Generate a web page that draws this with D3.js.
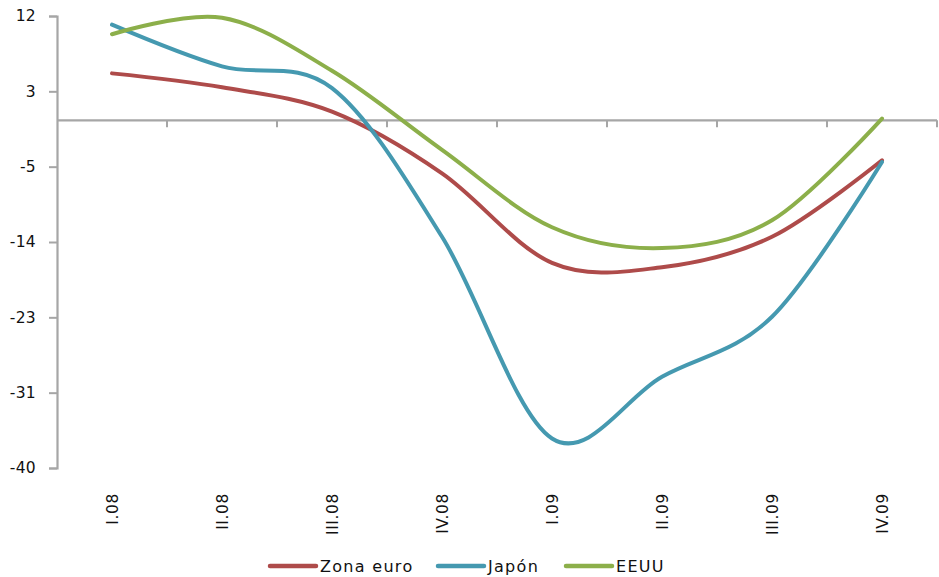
<!DOCTYPE html>
<html><head><meta charset="utf-8">
<script src="https://cdn.jsdelivr.net/npm/d3@7"></script>
<style>
html,body{margin:0;padding:0;background:#fff;}
text{font-family:"DejaVu Sans",Verdana,sans-serif;fill:#111;}
</style></head>
<body>
<svg id="c" width="939" height="577"></svg>
<script>
const categories = ["I.08","II.08","III.08","IV.08","I.09","II.09","III.09","IV.09"];
const zonaEuro = [5.4, 3.8, 1.0, -6.1, -16.4, -16.9, -13.4, -4.6];
const japon    = [11.0, 6.2, 3.7, -13.4, -36.6, -29.5, -22.6, -4.8];
const eeuu     = [9.9, 11.8, 5.7, -3.4, -12.3, -14.7, -11.5, 0.2];
const yTickLabels = ["12","3","-5","-14","-23","-31","-40"];
const yMin = -40, yMax = 12;

const series = [
  {name:"Zona euro", values: zonaEuro, color:"#AE4B4A"},
  {name:"Japón",     values: japon,    color:"#4599B0"},
  {name:"EEUU",      values: eeuu,     color:"#8CAF4A"}
];

const svg = d3.select("#c");
const mLeft = 57, mRight = 937, mTop = 16, mBottom = 468;

const x = d3.scaleBand().domain(categories).range([mLeft, mRight]).paddingInner(0).paddingOuter(0);
const y = d3.scaleLinear().domain([yMin, yMax]).range([mBottom, mTop]);

const axisColor = "#A6A6A6";

// Y axis
const step = (yMax - yMin) / (yTickLabels.length - 1);
const yTickVals = yTickLabels.map((d, i) => yMax - i * step);
const yAxis = d3.axisLeft(y).tickValues(yTickVals)
  .tickFormat((d, i) => yTickLabels[i]).tickSize(8).tickPadding(13);
const gy = svg.append("g").attr("transform", `translate(${mLeft},0)`).call(yAxis);
gy.select(".domain").attr("stroke", axisColor).attr("stroke-width", 2.2);
gy.selectAll(".tick line").attr("stroke", axisColor).attr("stroke-width", 2);
gy.selectAll(".tick text").attr("font-size", 15.5).attr("font-family", "DejaVu Sans")
  .attr("fill", "#111").attr("letter-spacing", "0.3px");

// X axis at zero
const gx = svg.append("g");
gx.append("line").attr("x1", mLeft).attr("x2", mRight).attr("y1", y(0)).attr("y2", y(0))
  .attr("stroke", axisColor).attr("stroke-width", 2.2);
const boundaries = categories.map(c => x(c)).concat([x(categories[categories.length-1]) + x.bandwidth()]);
gx.selectAll("line.tk").data(boundaries.slice(1)).enter().append("line").attr("class","tk")
  .attr("x1", d => d).attr("x2", d => d).attr("y1", y(0)).attr("y2", y(0) + 7)
  .attr("stroke", axisColor).attr("stroke-width", 2);

// X labels (rotated)
svg.append("g").selectAll("text").data(categories).enter().append("text")
  .attr("transform", d => `translate(${x(d) + x.bandwidth()/2},493) rotate(-90)`)
  .attr("text-anchor", "end").attr("dy", "0.36em")
  .attr("font-size", 15.5).attr("letter-spacing", "0.6px")
  .text(d => d);

// Lines
const line = d3.line()
  .x((d, i) => x(categories[i]) + x.bandwidth()/2)
  .y(d => y(d))
  .curve(d3.curveCardinal.tension(0));

svg.append("g").selectAll("path").data(series).enter().append("path")
  .attr("d", s => line(s.values))
  .attr("fill", "none").attr("stroke", s => s.color).attr("stroke-width", 4)
  .attr("stroke-linecap", "round").attr("stroke-linejoin", "round");

// Legend
const legendX = [270, 438, 566];
const lg = svg.append("g");
series.forEach((s, i) => {
  lg.append("line").attr("x1", legendX[i]).attr("x2", legendX[i] + 46)
    .attr("y1", 566).attr("y2", 566).attr("stroke", s.color).attr("stroke-width", 4.5)
    .attr("stroke-linecap", "round");
  lg.append("text").attr("x", legendX[i] + 50).attr("y", 566).attr("dy", "0.36em")
    .attr("font-size", 16).attr("letter-spacing", "1.3px").text(s.name);
});
</script>
</body></html>
